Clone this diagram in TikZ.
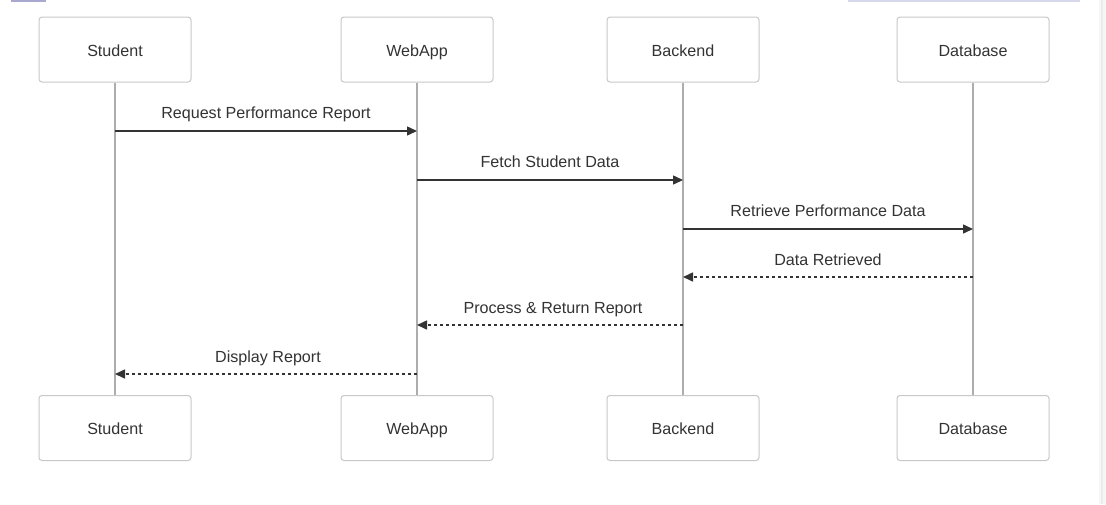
\documentclass[tikz,border=0pt]{standalone}
\usepackage{fontspec}
\setmainfont{Liberation Sans}
\usetikzlibrary{arrows.meta}
\definecolor{txt}{HTML}{333333}
\definecolor{boxline}{HTML}{C8C8C8}
\definecolor{lifeline}{HTML}{ADADAD}
\definecolor{msgline}{HTML}{333333}
\tikzset{
  actor/.style={draw=boxline, line width=1pt, rounded corners=3pt, fill=white,
    minimum width=152pt, minimum height=65pt, inner sep=0pt, text=txt,
    text height=14pt, text depth=1pt,
    font=\fontsize{16.1}{19}\selectfont},
  lifeln/.style={draw=lifeline, line width=2pt},
  msg/.style={draw=msgline, line width=1.5pt, -{Triangle[length=10pt,width=9pt]}},
  reply/.style={msg, dash pattern=on 3pt off 3pt},
  lbl/.style={text=txt, font=\fontsize{16.1}{19}\selectfont, inner sep=0pt, anchor=base},
}
\begin{document}
\begin{tikzpicture}[x=1pt,y=-1pt]
\useasboundingbox (0,0) rectangle (1106,504);
\fill[white] (0,0) rectangle (1106,504);
% page fragments
\fill[fill={rgb,255:red,168;green,168;blue,208}] (11,0) rectangle (46,1.5);
\fill[fill={rgb,255:red,216;green,216;blue,236}] (848,0) rectangle (1080,1.5);
\fill[fill={rgb,255:red,246;green,246;blue,246}] (1099,0) rectangle (1106,504);
\fill[fill={rgb,255:red,236;green,236;blue,236}] (1100.5,0) rectangle (1102.5,504);
% actors top
\node[actor] (st) at (115,49.5) {Student};
\node[actor] (wa) at (417,49.5) {WebApp};
\node[actor] (be) at (683,49.5) {Backend};
\node[actor] (db) at (973,49.5) {Database};
% actors bottom
\node[actor] (stb) at (115,428) {Student};
\node[actor] (wab) at (417,428) {WebApp};
\node[actor] (beb) at (683,428) {Backend};
\node[actor] (dbb) at (973,428) {Database};
% lifelines
\draw[lifeln] (st.south) -- (stb.north);
\draw[lifeln] (wa.south) -- (wab.north);
\draw[lifeln] (be.south) -- (beb.north);
\draw[lifeln] (db.south) -- (dbb.north);
% message points
\coordinate (m1s) at (115,131); \coordinate (m1e) at (417,131);
\coordinate (m2s) at (417,180); \coordinate (m2e) at (683,180);
\coordinate (m3s) at (683,229); \coordinate (m3e) at (973,229);
\coordinate (m4s) at (973,277); \coordinate (m4e) at (683,277);
\coordinate (m5s) at (683,325); \coordinate (m5e) at (417,325);
\coordinate (m6s) at (417,374); \coordinate (m6e) at (115,374);
\draw[msg] (m1s) -- (m1e);
\draw[msg] (m2s) -- (m2e);
\draw[msg] (m3s) -- (m3e);
\draw[reply] (m4s) -- (m4e);
\draw[reply] (m5s) -- (m5e);
\draw[reply] (m6s) -- (m6e);
% labels
\node[lbl] (l1) at (266,118) {Request Performance Report};
\node[lbl] (l2) at (550,167) {Fetch Student Data};
\node[lbl] (l3) at (828,216) {Retrieve Performance Data};
\node[lbl] (l4) at (828,265) {Data Retrieved};
\node[lbl] (l5) at (553,313) {Process \& Return Report};
\node[lbl] (l6) at (268,362) {Display Report};
\end{tikzpicture}
\end{document}
